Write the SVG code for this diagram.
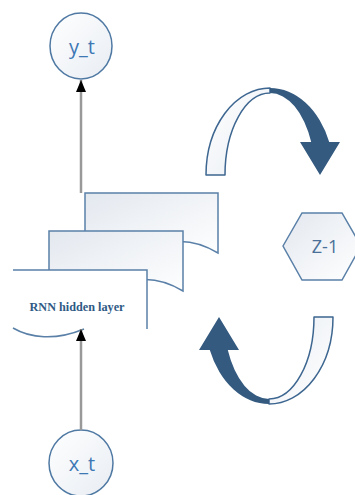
<svg xmlns="http://www.w3.org/2000/svg" width="355" height="495" viewBox="0 0 355 495">
  <defs>
    <linearGradient id="paper" x1="0" y1="0" x2="1" y2="1">
      <stop offset="0" stop-color="#e3e8ef"/>
      <stop offset="1" stop-color="#ffffff"/>
    </linearGradient>
    <linearGradient id="bubble" x1="0" y1="0" x2="1" y2="1">
      <stop offset="0" stop-color="#ffffff"/>
      <stop offset="1" stop-color="#e8edf3"/>
    </linearGradient>
    <marker id="head" viewBox="0 0 12 10" refX="12" refY="5" markerWidth="12" markerHeight="10" markerUnits="userSpaceOnUse" orient="auto">
      <path d="M0,0 L12,5 L0,10 Z" fill="#000"/>
    </marker>
    <!-- one twisted ribbon arrow, reused for both recurrence arrows -->
    <g id="ribbon-arrow">
      <path class="ribbon" d="M206,175 A64,87 0 0 1 270,88 L270,93 A45,82 0 0 0 225,175 Z"/>
      <path class="ribbon-front" d="M270,88 A64,87 0 0 1 329.2,142 L340,142 L320,175 L300,142 L311.2,142 A45,82 0 0 0 270,93 Z"/>
    </g>
    <style>
      .doc { fill: url(#paper); stroke: #5a80a8; stroke-width: 1.5; }
      .edge { fill: none; stroke: #5a80a8; stroke-width: 1.5; }
      .node { fill: url(#bubble); stroke: #4f79a3; stroke-width: 1.5; }
      .lbl { font-family: "Open Sans", "DejaVu Sans", sans-serif; font-size: 20px; fill: #3d78b5; text-anchor: middle; }
      .hexlbl { font-family: "Open Sans", "DejaVu Sans", sans-serif; font-size: 18px; fill: #4a6f98; text-anchor: middle; }
      .layer { font-family: "Liberation Serif", "Times New Roman", serif; font-size: 13.5px; font-weight: bold; fill: #2f5a85; text-anchor: middle; }
      .link { fill: none; stroke: #999999; stroke-width: 2.5; }
      .ribbon { fill: url(#bubble); stroke: #3d6690; stroke-width: 1.5; stroke-linejoin: round; }
      .ribbon-front { fill: #345a80; }
    </style>
  </defs>

  <!-- stacked hidden-layer sheets, back to front -->
  <g id="layer-back">
    <path class="doc" d="M85,193 H218 V253 C201,243 185,239 168,243 C135,251 102,263 85,253 Z"/>
  </g>
  <g id="layer-middle">
    <path class="doc" d="M49,231 H183 V291 C166,281 150,277 133,281 C100,289 66,301 49,291 Z"/>
  </g>
  <g id="layer-front">
    <path d="M13,270 H147 V329 C130,319 114,315 97,319 C64,327 30,339 13,329 Z" fill="#ffffff"/>
    <path class="edge" d="M13,270 H147 V329"/>
    <path class="edge" d="M13,328 C30,338 55,341 84,329"/>
    <text class="layer" x="77" y="311" textLength="95" lengthAdjust="spacingAndGlyphs">RNN hidden layer</text>
  </g>

  <!-- output node -->
  <g id="y_t">
    <ellipse class="node" cx="81" cy="46" rx="31" ry="33"/>
    <text class="lbl" x="82" y="54">y_t</text>
  </g>

  <!-- input node -->
  <g id="x_t">
    <ellipse class="node" cx="81" cy="463" rx="32" ry="33"/>
    <text class="lbl" x="82" y="471">x_t</text>
  </g>

  <!-- unit delay -->
  <g id="z-1">
    <polygon class="doc" points="283,246 302,213 342,213 361,246 342,280 302,280"/>
    <text class="hexlbl" x="325" y="253">Z-1</text>
  </g>

  <!-- recurrence arrows -->
  <g id="loop-out">
    <use href="#ribbon-arrow"/>
  </g>
  <g id="loop-in">
    <use href="#ribbon-arrow" transform="rotate(180 269.5 246)"/>
  </g>

  <!-- connectors -->
  <g id="connectors">
    <path class="link" d="M81,193 V80" marker-end="url(#head)"/>
    <path class="link" d="M81,430 V329" marker-end="url(#head)"/>
  </g>
</svg>
